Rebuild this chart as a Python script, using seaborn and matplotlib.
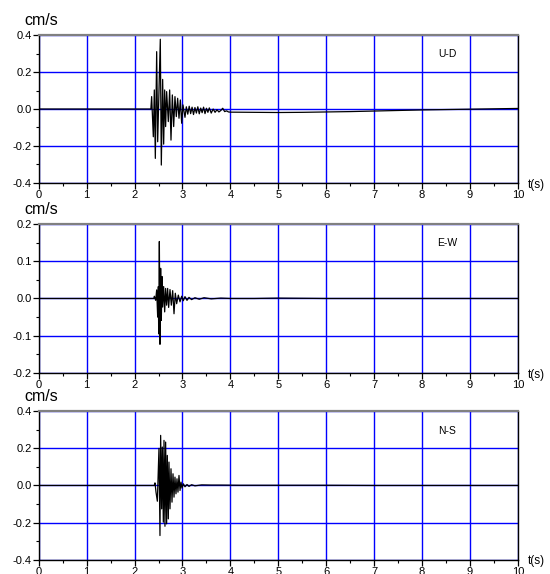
import matplotlib
matplotlib.use('Agg')
import matplotlib.pyplot as plt
import seaborn as sns
import pandas as pd
from matplotlib.ticker import MultipleLocator, FormatStrFormatter

# ---------------- data ----------------
ud_t = [0.0, 1.0, 2.0, 2.34, 2.356, 2.391, 2.412, 2.433, 2.461, 2.482, 2.537, 2.558,
        2.586, 2.607, 2.628, 2.648, 2.669, 2.704, 2.732, 2.760, 2.788, 2.816, 2.843,
        2.871, 2.899, 2.927, 2.955, 2.983, 3.010, 3.052,
        3.08, 3.11, 3.14, 3.17, 3.20, 3.23, 3.26, 3.29, 3.32, 3.35, 3.38, 3.41, 3.44,
        3.47, 3.50, 3.53, 3.56, 3.60, 3.64, 3.68, 3.72, 3.76, 3.80, 3.84, 3.88, 3.92,
        3.96, 4.0, 4.5, 5.0, 5.5, 6.0, 6.5, 7.0, 7.5, 8.0, 8.5, 9.0, 9.5, 10.0]
ud_v = [0.0, 0.0, 0.0, 0.0, 0.067, -0.150, 0.103, -0.267, 0.310, -0.177, 0.377, -0.303,
        0.160, -0.190, 0.103, -0.095, 0.094, -0.068, 0.103, -0.168, 0.076, -0.095, 0.067,
        -0.041, 0.058, -0.050, 0.049, -0.077, 0.022, -0.045,
        0.012, -0.028, 0.015, -0.025, 0.010, -0.030, 0.008, -0.022, 0.012, -0.026, 0.005,
        -0.020, 0.010, -0.025, 0.004, -0.018, 0.006, -0.022, 0.000, -0.018, -0.004,
        -0.016, -0.008, 0.004, -0.014, -0.010, -0.016, -0.017, -0.018, -0.019, -0.018,
        -0.016, -0.014, -0.011, -0.008, -0.005, -0.003, -0.001, 0.001, 0.003]

ew_t = [0.0, 1.0, 2.0, 2.40, 2.412, 2.44, 2.461, 2.482, 2.496, 2.503, 2.517, 2.530,
        2.544, 2.558, 2.572, 2.586, 2.607, 2.628, 2.648, 2.669, 2.690, 2.711, 2.739,
        2.767, 2.795, 2.823, 2.850, 2.878, 2.913, 2.948, 2.983, 3.017, 3.052, 3.094,
        3.136, 3.19, 3.26, 3.35, 3.45, 3.6, 3.8, 4.0, 4.5, 5.0, 6.0, 7.0, 8.0, 9.0, 10.0]
ew_v = [0.0, 0.0, 0.0, 0.0, 0.006, -0.005, 0.023, -0.050, 0.032, -0.095, 0.153, -0.123,
        0.081, -0.059, 0.059, -0.023, 0.032, -0.036, 0.027, -0.018, 0.027, -0.024, 0.024,
        -0.018, 0.021, -0.041, 0.014, -0.014, 0.009, -0.009, 0.006, -0.006, 0.005, -0.005,
        0.003, -0.003, 0.002, -0.002, 0.002, -0.001, 0.001, 0.0, 0.0, 0.001, 0.0, 0.0,
        0.0, 0.0, 0.0]

ns_t = [0.0, 1.0, 2.0, 2.41, 2.426, 2.447, 2.475, 2.509, 2.530, 2.544, 2.565, 2.579,
        2.600, 2.614, 2.634, 2.648, 2.669, 2.683, 2.704, 2.718, 2.739, 2.760, 2.781,
        2.802, 2.823, 2.843, 2.864, 2.885, 2.906, 2.927, 2.948, 2.969, 2.989, 3.017,
        3.052, 3.094, 3.136, 3.19, 3.26, 3.4, 3.6, 3.8, 4.2, 5.0, 6.0, 7.0, 7.5, 8.0,
        9.0, 10.0]
ns_v = [0.0, 0.0, 0.0, 0.0, 0.014, -0.036, -0.085, 0.200, -0.270, 0.270, -0.126, 0.207,
        -0.198, 0.243, -0.220, 0.234, -0.207, 0.162, -0.180, 0.126, -0.126, 0.090, -0.090,
        0.063, -0.063, 0.045, -0.045, 0.036, -0.036, 0.054, -0.027, 0.018, -0.014, 0.009,
        -0.007, 0.005, -0.005, 0.004, -0.002, 0.003, 0.002, 0.002, 0.001, 0.001, 0.001,
        0.0, 0.0, 0.0, 0.0, 0.0]

labels = ['U-D', 'E-W', 'N-S']
limits = [0.4, 0.2, 0.4]
steps = [0.2, 0.1, 0.2]
x_ticks = [0, 1, 2, 3, 4, 5, 6, 7, 8, 9, 10]

# ---------------- figure ----------------
sns.set_theme(style='ticks')
plt.rcParams['font.family'] = ['Liberation Sans', 'DejaVu Sans']
plt.rcParams['axes.unicode_minus'] = False

fig = plt.figure(figsize=(5.5, 5.74), dpi=100)
rects = [[0.0705, 0.6812, 0.871, 0.2578],
         [0.0705, 0.3502, 0.871, 0.2596],
         [0.0705, 0.0250, 0.871, 0.2585]]
series = [(ud_t, ud_v), (ew_t, ew_v), (ns_t, ns_v)]

for rect, (t, v), lab, lim, st in zip(rects, series, labels, limits, steps):
    ax = fig.add_axes(rect)
    df = pd.DataFrame({'t': t, 'v': v})
    ax.set_axisbelow(True)
    ax.grid(True, which='major', color='#0000ff', lw=1.0)
    sns.lineplot(data=df, x='t', y='v', ax=ax, color='black', lw=0.9,
                 estimator=None, sort=False, zorder=3)
    ax.set_xlim(0, 10)
    ax.set_ylim(-lim, lim)
    ax.set_xticks(x_ticks)
    ax.xaxis.set_minor_locator(MultipleLocator(0.5))
    ax.yaxis.set_major_locator(MultipleLocator(st))
    ax.yaxis.set_minor_locator(MultipleLocator(st / 2))
    ax.yaxis.set_major_formatter(FormatStrFormatter('%.1f'))
    ax.set_xlabel('')
    ax.set_ylabel('')
    ax.tick_params(which='major', direction='out', length=4, width=0.9,
                   color='black', labelsize=8, pad=1.2, labelcolor='black')
    ax.tick_params(which='minor', direction='out', length=2, width=0.8, color='black')
    for s in ['left', 'bottom', 'right']:
        ax.spines[s].set_color('black')
        ax.spines[s].set_linewidth(1.0)
    ax.spines['top'].set_color('#808080')
    ax.spines['top'].set_linewidth(1.6)
    ax.spines['right'].set_visible(True)
    ax.spines['top'].set_visible(True)
    ax.text(8.53, lim * 0.74, lab, fontsize=7.5, ha='center', va='center', color='black')
    ax.text(-0.031, 1.07, 'cm/s', transform=ax.transAxes, fontsize=11.5,
            ha='left', va='baseline', color='black')
    ax.text(1.02, -0.012, 't(s)', transform=ax.transAxes, fontsize=8.5,
            ha='left', va='center', color='black')

fig.savefig('out.png', dpi=100)
